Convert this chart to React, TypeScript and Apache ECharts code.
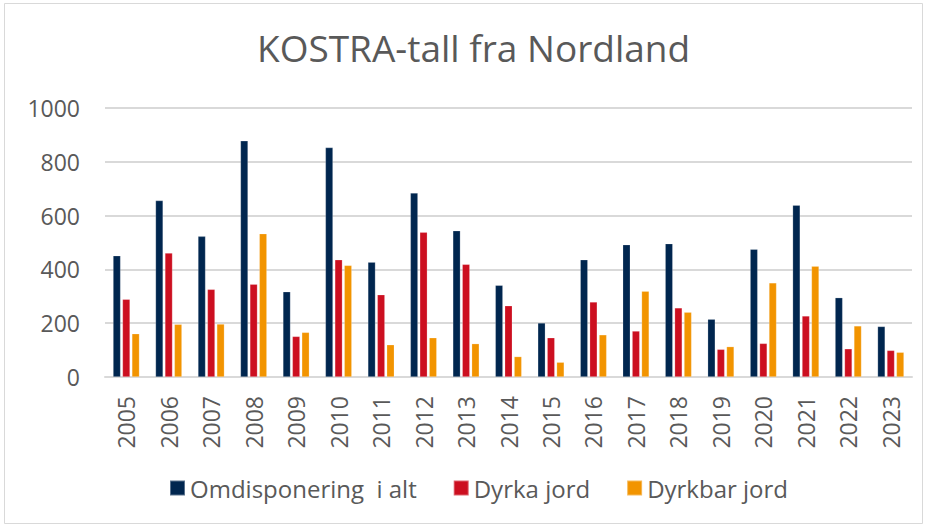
import React, { useEffect, useRef } from "react";
import * as echarts from "echarts";

const years = ["2005","2006","2007","2008","2009","2010","2011","2012","2013","2014","2015","2016","2017","2018","2019","2020","2021","2022","2023"];
const omdisponering = [451, 656, 523, 878, 317, 853, 427, 684, 544, 341, 201, 436, 492, 496, 215, 475, 639, 295, 188];
const dyrkaJord = [289, 461, 326, 345, 151, 436, 306, 538, 419, 265, 146, 279, 171, 257, 103, 125, 227, 105, 99];
const dyrkbarJord = [161, 196, 197, 533, 166, 415, 120, 146, 124, 76, 55, 157, 319, 241, 113, 350, 412, 190, 92];
const seriesNames = ["Omdisponering  i alt", "Dyrka jord", "Dyrkbar jord"];
const colors = ["#00264f", "#cc0f20", "#f29400"];

export default function App() {
  const ref = useRef<HTMLDivElement>(null);
  useEffect(() => {
    document.body.style.margin = "0";
    const chart = echarts.init(ref.current!, null, { renderer: "svg" });
    const font = "'Open Sans', sans-serif";
    const mk = (name: string, data: number[], color: string) => ({
      name,
      type: "bar",
      data,
      barWidth: 7.6,
      barGap: "24%",
      itemStyle: { color, borderColor: "rgba(255,255,255,0.35)", borderWidth: 0.6 },
    });
    chart.setOption({
      animation: false,
      backgroundColor: "#ffffff",
      title: {
        text: "KOSTRA-tall fra Nordland",
        left: 252,
        top: 24,
        textStyle: { fontFamily: font, fontSize: 37, fontWeight: "normal", color: "#595959" },
      },
      graphic: [
        {
          type: "rect",
          shape: { x: 4.5, y: 3.5, width: 918, height: 520 },
          style: { fill: "none", stroke: "#d9d9d9", lineWidth: 1 },
          silent: true,
        },
      ],
      legend: {
        left: 164,
        top: 471,
        icon: "rect",
        itemWidth: 15,
        itemHeight: 15,
        itemGap: 36,
        textStyle: { fontFamily: font, fontSize: 24, color: "#595959" },
        data: seriesNames,
      },
      grid: { left: 105, right: 17, top: 108, bottom: 149 },
      xAxis: {
        type: "category",
        data: years,
        axisLine: { lineStyle: { color: "#d9d9d9", width: 2 } },
        axisTick: { show: false },
        axisLabel: { rotate: 90, margin: 19, fontFamily: font, fontSize: 23, color: "#595959", interval: 0 },
      },
      yAxis: {
        type: "value",
        min: 0,
        max: 1000,
        interval: 200,
        axisLine: { show: false },
        axisTick: { show: false },
        splitLine: { lineStyle: { color: "#d9d9d9", width: 2 } },
        axisLabel: { margin: 25, fontFamily: font, fontSize: 23, color: "#595959", formatter: (v: number) => String(v) },
      },
      series: [
        mk(seriesNames[0], omdisponering, colors[0]),
        mk(seriesNames[1], dyrkaJord, colors[1]),
        mk(seriesNames[2], dyrkbarJord, colors[2]),
      ],
    });
    return () => chart.dispose();
  }, []);
  return <div ref={ref} style={{ width: 929, height: 526 }} />;
}
